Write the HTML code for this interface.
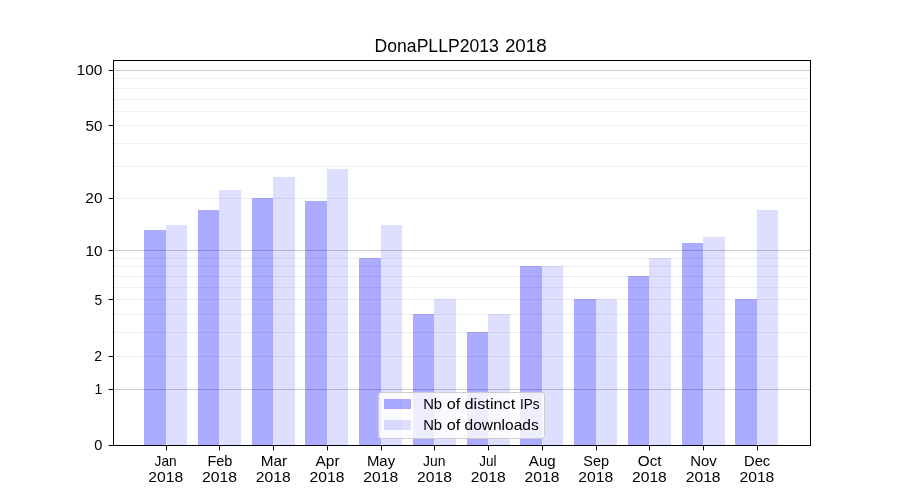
<!DOCTYPE html><html><head><meta charset="utf-8"><style>html,body{margin:0;padding:0;background:#fff;}svg{display:block;will-change:transform;}text{font-family:"Liberation Sans",sans-serif;fill:#000;}</style></head><body>
<svg width="900" height="500" viewBox="0 0 900 500" shape-rendering="crispEdges">
<rect x="0" y="0" width="900" height="500" fill="#fff"/>
<rect x="113" y="356" width="697" height="1" fill="#efefef"/>
<rect x="113" y="332" width="697" height="1" fill="#efefef"/>
<rect x="113" y="314" width="697" height="1" fill="#efefef"/>
<rect x="113" y="299" width="697" height="1" fill="#efefef"/>
<rect x="113" y="287" width="697" height="1" fill="#efefef"/>
<rect x="113" y="276" width="697" height="1" fill="#efefef"/>
<rect x="113" y="266" width="697" height="1" fill="#efefef"/>
<rect x="113" y="258" width="697" height="1" fill="#efefef"/>
<rect x="113" y="198" width="697" height="1" fill="#efefef"/>
<rect x="113" y="166" width="697" height="1" fill="#efefef"/>
<rect x="113" y="143" width="697" height="1" fill="#efefef"/>
<rect x="113" y="125" width="697" height="1" fill="#efefef"/>
<rect x="113" y="111" width="697" height="1" fill="#efefef"/>
<rect x="113" y="99" width="697" height="1" fill="#efefef"/>
<rect x="113" y="88" width="697" height="1" fill="#efefef"/>
<rect x="113" y="78" width="697" height="1" fill="#efefef"/>
<rect x="113" y="389" width="697" height="1" fill="#cbcbcb"/>
<rect x="113" y="250" width="697" height="1" fill="#cbcbcb"/>
<rect x="113" y="70" width="697" height="1" fill="#cbcbcb"/>
<rect x="144" y="230" width="22" height="215" fill="#0000ff" fill-opacity="0.33"/>
<rect x="166" y="225" width="21" height="220" fill="#0000ff" fill-opacity="0.13"/>
<rect x="198" y="210" width="21" height="235" fill="#0000ff" fill-opacity="0.33"/>
<rect x="219" y="190" width="22" height="255" fill="#0000ff" fill-opacity="0.13"/>
<rect x="252" y="198" width="21" height="247" fill="#0000ff" fill-opacity="0.33"/>
<rect x="273" y="177" width="22" height="268" fill="#0000ff" fill-opacity="0.13"/>
<rect x="305" y="201" width="22" height="244" fill="#0000ff" fill-opacity="0.33"/>
<rect x="327" y="169" width="21" height="276" fill="#0000ff" fill-opacity="0.13"/>
<rect x="359" y="258" width="22" height="187" fill="#0000ff" fill-opacity="0.33"/>
<rect x="381" y="225" width="21" height="220" fill="#0000ff" fill-opacity="0.13"/>
<rect x="413" y="314" width="21" height="131" fill="#0000ff" fill-opacity="0.33"/>
<rect x="434" y="299" width="22" height="146" fill="#0000ff" fill-opacity="0.13"/>
<rect x="467" y="332" width="21" height="113" fill="#0000ff" fill-opacity="0.33"/>
<rect x="488" y="314" width="22" height="131" fill="#0000ff" fill-opacity="0.13"/>
<rect x="520" y="266" width="22" height="179" fill="#0000ff" fill-opacity="0.33"/>
<rect x="542" y="266" width="21" height="179" fill="#0000ff" fill-opacity="0.13"/>
<rect x="574" y="299" width="22" height="146" fill="#0000ff" fill-opacity="0.33"/>
<rect x="596" y="299" width="21" height="146" fill="#0000ff" fill-opacity="0.13"/>
<rect x="628" y="276" width="21" height="169" fill="#0000ff" fill-opacity="0.33"/>
<rect x="649" y="258" width="22" height="187" fill="#0000ff" fill-opacity="0.13"/>
<rect x="682" y="243" width="21" height="202" fill="#0000ff" fill-opacity="0.33"/>
<rect x="703" y="237" width="22" height="208" fill="#0000ff" fill-opacity="0.13"/>
<rect x="735" y="299" width="22" height="146" fill="#0000ff" fill-opacity="0.33"/>
<rect x="757" y="210" width="21" height="235" fill="#0000ff" fill-opacity="0.13"/>
<rect x="378.5" y="392.5" width="166" height="46" rx="2.8" ry="2.8" fill="#fff" fill-opacity="0.8" stroke="#cccccc" stroke-width="1" shape-rendering="geometricPrecision"/>
<rect x="384" y="399" width="27" height="10" fill="#0000ff" fill-opacity="0.33"/>
<rect x="384" y="420" width="27" height="10" fill="#0000ff" fill-opacity="0.13"/>
<g>
<text x="423.15" y="408.60" font-size="14.6" textLength="18.92" lengthAdjust="spacingAndGlyphs">Nb</text><text x="446.71" y="408.60" font-size="14.6" textLength="13.54" lengthAdjust="spacingAndGlyphs">of</text><text x="464.51" y="408.60" font-size="14.6" textLength="50.81" lengthAdjust="spacingAndGlyphs">distinct</text><text x="520.07" y="408.60" font-size="14.6" textLength="19.39" lengthAdjust="spacingAndGlyphs">IPs</text>
<text x="423.15" y="429.90" font-size="14.6" textLength="18.92" lengthAdjust="spacingAndGlyphs">Nb</text><text x="446.71" y="429.90" font-size="14.6" textLength="13.54" lengthAdjust="spacingAndGlyphs">of</text><text x="464.54" y="429.90" font-size="14.6" textLength="74.17" lengthAdjust="spacingAndGlyphs">downloads</text>
<rect x="113" y="60" width="698" height="1" fill="#000"/>
<rect x="113" y="445" width="698" height="1" fill="#000"/>
<rect x="113" y="60" width="1" height="386" fill="#000"/>
<rect x="810" y="60" width="1" height="386" fill="#000"/>
<rect x="108.64" y="445" width="4.86" height="1" fill="#000" shape-rendering="geometricPrecision"/>
<text x="94.29" y="450.00" font-size="14.6" textLength="8.14" lengthAdjust="spacingAndGlyphs">0</text>
<rect x="108.64" y="389" width="4.86" height="1" fill="#000" shape-rendering="geometricPrecision"/>
<text x="94.40" y="394.00" font-size="14.6" textLength="7.78" lengthAdjust="spacingAndGlyphs">1</text>
<rect x="108.64" y="356" width="4.86" height="1" fill="#000" shape-rendering="geometricPrecision"/>
<text x="94.25" y="361.00" font-size="14.6" textLength="7.85" lengthAdjust="spacingAndGlyphs">2</text>
<rect x="108.64" y="299" width="4.86" height="1" fill="#000" shape-rendering="geometricPrecision"/>
<text x="94.46" y="305.00" font-size="14.6" textLength="7.69" lengthAdjust="spacingAndGlyphs">5</text>
<rect x="108.64" y="250" width="4.86" height="1" fill="#000" shape-rendering="geometricPrecision"/>
<text x="85.47" y="256.00" font-size="14.6" textLength="16.99" lengthAdjust="spacingAndGlyphs">10</text>
<rect x="108.64" y="198" width="4.86" height="1" fill="#000" shape-rendering="geometricPrecision"/>
<text x="85.35" y="203.00" font-size="14.6" textLength="17.11" lengthAdjust="spacingAndGlyphs">20</text>
<rect x="108.64" y="125" width="4.86" height="1" fill="#000" shape-rendering="geometricPrecision"/>
<text x="85.57" y="131.00" font-size="14.6" textLength="16.88" lengthAdjust="spacingAndGlyphs">50</text>
<rect x="108.64" y="70" width="4.86" height="1" fill="#000" shape-rendering="geometricPrecision"/>
<text x="76.61" y="75.00" font-size="14.6" textLength="25.85" lengthAdjust="spacingAndGlyphs">100</text>
<rect x="166" y="446" width="1" height="4.36" fill="#000" shape-rendering="geometricPrecision"/>
<text x="154.56" y="465.85" font-size="14.6" textLength="22.05" lengthAdjust="spacingAndGlyphs">Jan</text>
<text x="148.35" y="481.85" font-size="14.6" textLength="34.85" lengthAdjust="spacingAndGlyphs">2018</text>
<rect x="219" y="446" width="1" height="4.36" fill="#000" shape-rendering="geometricPrecision"/>
<text x="207.43" y="465.85" font-size="14.6" textLength="25.03" lengthAdjust="spacingAndGlyphs">Feb</text>
<text x="202.09" y="481.85" font-size="14.6" textLength="34.85" lengthAdjust="spacingAndGlyphs">2018</text>
<rect x="273" y="446" width="1" height="4.36" fill="#000" shape-rendering="geometricPrecision"/>
<text x="260.68" y="465.85" font-size="14.6" textLength="26.35" lengthAdjust="spacingAndGlyphs">Mar</text>
<text x="255.83" y="481.85" font-size="14.6" textLength="34.85" lengthAdjust="spacingAndGlyphs">2018</text>
<rect x="327" y="446" width="1" height="4.36" fill="#000" shape-rendering="geometricPrecision"/>
<text x="315.47" y="465.85" font-size="14.6" textLength="24.21" lengthAdjust="spacingAndGlyphs">Apr</text>
<text x="309.56" y="481.85" font-size="14.6" textLength="34.85" lengthAdjust="spacingAndGlyphs">2018</text>
<rect x="381" y="446" width="1" height="4.36" fill="#000" shape-rendering="geometricPrecision"/>
<text x="366.93" y="465.85" font-size="14.6" textLength="28.19" lengthAdjust="spacingAndGlyphs">May</text>
<text x="363.30" y="481.85" font-size="14.6" textLength="34.85" lengthAdjust="spacingAndGlyphs">2018</text>
<rect x="434" y="446" width="1" height="4.36" fill="#000" shape-rendering="geometricPrecision"/>
<text x="423.09" y="465.85" font-size="14.6" textLength="22.36" lengthAdjust="spacingAndGlyphs">Jun</text>
<text x="417.04" y="481.85" font-size="14.6" textLength="34.85" lengthAdjust="spacingAndGlyphs">2018</text>
<rect x="488" y="446" width="1" height="4.36" fill="#000" shape-rendering="geometricPrecision"/>
<text x="479.31" y="465.85" font-size="14.6" textLength="17.29" lengthAdjust="spacingAndGlyphs">Jul</text>
<text x="470.77" y="481.85" font-size="14.6" textLength="34.85" lengthAdjust="spacingAndGlyphs">2018</text>
<rect x="542" y="446" width="1" height="4.36" fill="#000" shape-rendering="geometricPrecision"/>
<text x="528.87" y="465.85" font-size="14.6" textLength="26.75" lengthAdjust="spacingAndGlyphs">Aug</text>
<text x="524.51" y="481.85" font-size="14.6" textLength="34.85" lengthAdjust="spacingAndGlyphs">2018</text>
<rect x="596" y="446" width="1" height="4.36" fill="#000" shape-rendering="geometricPrecision"/>
<text x="583.26" y="465.85" font-size="14.6" textLength="25.77" lengthAdjust="spacingAndGlyphs">Sep</text>
<text x="578.25" y="481.85" font-size="14.6" textLength="34.85" lengthAdjust="spacingAndGlyphs">2018</text>
<rect x="649" y="446" width="1" height="4.36" fill="#000" shape-rendering="geometricPrecision"/>
<text x="637.88" y="465.85" font-size="14.6" textLength="23.74" lengthAdjust="spacingAndGlyphs">Oct</text>
<text x="631.98" y="481.85" font-size="14.6" textLength="34.85" lengthAdjust="spacingAndGlyphs">2018</text>
<rect x="703" y="446" width="1" height="4.36" fill="#000" shape-rendering="geometricPrecision"/>
<text x="690.15" y="465.85" font-size="14.6" textLength="26.61" lengthAdjust="spacingAndGlyphs">Nov</text>
<text x="685.72" y="481.85" font-size="14.6" textLength="34.85" lengthAdjust="spacingAndGlyphs">2018</text>
<rect x="757" y="446" width="1" height="4.36" fill="#000" shape-rendering="geometricPrecision"/>
<text x="744.01" y="465.85" font-size="14.6" textLength="26.25" lengthAdjust="spacingAndGlyphs">Dec</text>
<text x="739.46" y="481.85" font-size="14.6" textLength="34.85" lengthAdjust="spacingAndGlyphs">2018</text>
<text x="374.62" y="51.70" font-size="17.5" textLength="124.16" lengthAdjust="spacingAndGlyphs">DonaPLLP2013</text><text x="504.92" y="51.70" font-size="17.5" textLength="41.83" lengthAdjust="spacingAndGlyphs">2018</text>
</g>
</svg></body></html>
